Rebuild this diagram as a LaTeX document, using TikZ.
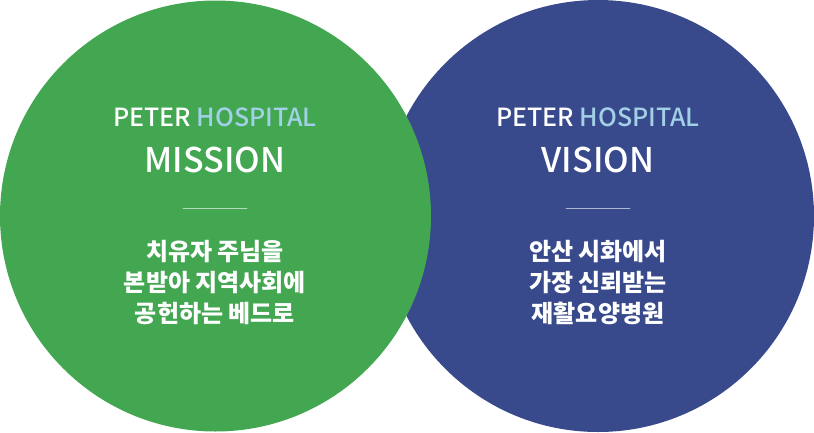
\documentclass[tikz,border=0pt]{standalone}
\usepackage{fontspec}
\setmainfont{Noto Sans CJK KR}
\newfontfamily\krmedium{Noto Sans CJK KR Medium}
\usepackage{xcolor}
\definecolor{missiongreen}{HTML}{43A651}
\definecolor{visionblue}{HTML}{384A8B}
\definecolor{hospblue}{HTML}{A2D0E6}

\begin{document}
\begin{tikzpicture}[
   x=1pt,
   y=-1pt,
   line cap=round,
   line join=round,
   every node/.style={text=white,inner sep=0pt},
   hosp/.style={font=\krmedium\fontsize{25}{25}\selectfont},
   title/.style={font=\krmedium\fontsize{34}{34}\selectfont},
   motto/.style={font=\fontsize{24}{31}\selectfont\bfseries,align=center}
 ]
   \useasboundingbox (0,0) rectangle (814,432);

   % The two discs, green one in front.
   \fill[visionblue] (598,216) circle (216);
   \fill[missiongreen] (215.5,216) circle (215.5);

   % Mission side.
   \node[hosp] (mhosp) at (215,117) {PETER \textcolor{hospblue}{HOSPITAL}};
   \node[title] (mtitle) at (215,160) {MISSION};
   \node[motto] (mtext) at (215,283) {치유자 주님을\\본받아 지역사회에\\공헌하는 베드로};
   \draw[white,opacity=0.6,line width=0.8pt] ([xshift=-32]mtitle.center |- 0,208) -- ([xshift=32]mtitle.center |- 0,208);

   % Vision side.
   \node[hosp] (vhosp) at (598,117) {PETER \textcolor{hospblue}{HOSPITAL}};
   \node[title] (vtitle) at (598,160) {VISION};
   \node[motto] (vtext) at (598,283) {안산 시화에서\\가장 신뢰받는\\ 재활요양병원};
   \draw[white,opacity=0.6,line width=0.8pt] ([xshift=-32]vtitle.center |- 0,208) -- ([xshift=32]vtitle.center |- 0,208);
 \end{tikzpicture}
\end{document}
